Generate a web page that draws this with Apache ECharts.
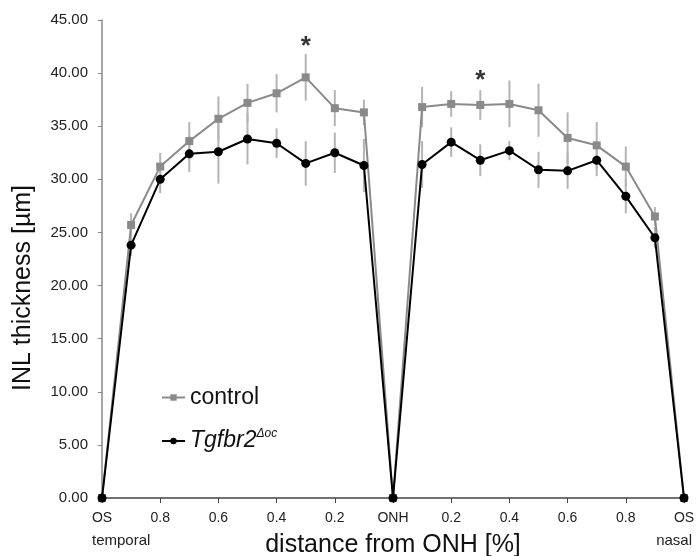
<!DOCTYPE html>
<html>
<head>
<meta charset="utf-8">
<script src="https://cdn.jsdelivr.net/npm/echarts@6/dist/echarts.min.js"></script>
<style>
  html, body { margin: 0; padding: 0; background: #fff; }
  #chart { width: 696px; height: 556px; }
</style>
</head>
<body>
<div id="chart"></div>
<script>
const categories = ['OS', '0.9', '0.8', '0.7', '0.6', '0.5', '0.4', '0.3', '0.2', '0.1', 'ONH',
  '0.1', '0.2', '0.3', '0.4', '0.5', '0.6', '0.7', '0.8', '0.9', 'OS']
const controlMean = [0, 25.7, 31.2, 33.6, 35.7, 37.2, 38.1, 39.6, 36.7, 36.3, 0,
  36.8, 37.1, 37.0, 37.1, 36.5, 33.9, 33.2, 31.2, 26.5, 0]
const controlErr = [0, 1.1, 1.3, 1.8, 2.1, 1.8, 1.8, 2.2, 1.7, 1.2, 0,
  1.9, 1.2, 1.4, 2.2, 2.5, 2.4, 2.2, 1.9, 0.9, 0]
const tgfMean = [0, 23.8, 30.0, 32.4, 32.6, 33.8, 33.4, 31.5, 32.5, 31.3, 0,
  31.4, 33.5, 31.8, 32.7, 30.9, 30.8, 31.8, 28.4, 24.5, 0]
const tgfErr = [0, 1.0, 1.3, 1.7, 3.0, 2.4, 1.4, 2.1, 1.9, 2.5, 0,
  2.2, 1.4, 1.5, 0.9, 1.7, 1.7, 1.5, 1.6, 1.0, 0]
const yTicks = { min: 0, max: 45, interval: 5 }
const stars = [[7, 43.0], [13, 39.8]]

const chart = echarts.init(document.getElementById('chart'))

const errSeries = (mean, err) => ({
  type: 'custom',
  silent: true,
  z: 1,
  data: mean.map((m, i) => [i, m - err[i], m + err[i]]),
  renderItem: (params, api) => {
    if (api.value(2) - api.value(1) <= 0) return null
    const lo = api.coord([api.value(0), api.value(1)])
    const hi = api.coord([api.value(0), api.value(2)])
    return {
      type: 'line',
      shape: { x1: lo[0], y1: lo[1], x2: hi[0], y2: hi[1] },
      style: { stroke: '#b4b4b4', lineWidth: 2 }
    }
  }
})

const option = {
  animation: false,
  backgroundColor: '#fff',
  grid: { left: 102, right: 12, top: 20, bottom: 58, outerBoundsMode: 'none' },
  legend: {
    orient: 'vertical', left: 156, top: 381, itemGap: 19,
    itemWidth: 23, itemHeight: 8,
    data: ['control', 'Tgfbr2'],
    textStyle: {
      fontFamily: 'Liberation Sans', fontSize: 23, color: '#111',
      rich: {
        i: { fontStyle: 'italic', fontSize: 23, fontFamily: 'Liberation Sans', color: '#111' },
        s: { fontStyle: 'italic', fontSize: 12, fontFamily: 'Liberation Sans', color: '#111', verticalAlign: 'top', padding: [0, 0, 14, 0] }
      }
    },
    formatter: name => name === 'Tgfbr2' ? '{i|Tgfbr2}{s|Δoc}' : name
  },
  xAxis: {
    type: 'category',
    data: categories,
    boundaryGap: false,
    name: 'distance from ONH [%]',
    nameLocation: 'middle',
    nameGap: 35,
    nameTextStyle: { fontFamily: 'Liberation Sans', fontSize: 25, color: '#111' },
    axisLine: { lineStyle: { color: '#444', width: 1.5 } },
    axisTick: { interval: 1, length: 5, lineStyle: { color: '#444' } },
    axisLabel: { interval: 1, fontFamily: 'Liberation Sans', fontSize: 14, color: '#222', margin: 13 },
    splitLine: { show: false }
  },
  yAxis: {
    type: 'value',
    min: yTicks.min, max: yTicks.max, interval: yTicks.interval,
    name: 'INL thickness [µm]',
    nameLocation: 'middle',
    nameGap: 66,
    nameTextStyle: { fontFamily: 'Liberation Sans', fontSize: 25, color: '#111', padding: [0, 58, 0, 0] },
    axisLine: { show: true, lineStyle: { color: '#888', width: 1.5 } },
    axisTick: { show: true, length: 4, lineStyle: { color: '#888' } },
    axisLabel: { fontFamily: 'Liberation Sans', fontSize: 15, color: '#222', margin: 14, formatter: v => v.toFixed(2) },
    splitLine: { show: false }
  },
  graphic: [
    { type: 'text', left: 92, top: 533, style: { text: 'temporal', fontFamily: 'Liberation Sans', fontSize: 15, fill: '#222' } },
    { type: 'text', right: 4, top: 533, style: { text: 'nasal', fontFamily: 'Liberation Sans', fontSize: 15, fill: '#222' } }
  ],
  series: [
    errSeries(controlMean, controlErr),
    errSeries(tgfMean, tgfErr),
    {
      name: 'control', type: 'line', data: controlMean, z: 3,
      symbol: 'rect', symbolSize: 8,
      lineStyle: { color: '#8a8a8a', width: 2 },
      itemStyle: { color: '#8a8a8a' }
    },
    {
      name: 'Tgfbr2', type: 'line', data: tgfMean, z: 4,
      symbol: 'circle', symbolSize: 9,
      lineStyle: { color: '#000', width: 2 },
      itemStyle: { color: '#000' }
    },
    {
      type: 'scatter', data: stars, symbolSize: 1, silent: true, z: 5,
      itemStyle: { color: 'transparent' },
      label: { show: true, position: 'inside', formatter: '*', fontFamily: 'Liberation Sans', fontSize: 26, fontWeight: 'bold', color: '#000', offset: [0, 6] }
    }
  ]
}

chart.setOption(option)
window.addEventListener('resize', () => chart.resize())
</script>
</body>
</html>
